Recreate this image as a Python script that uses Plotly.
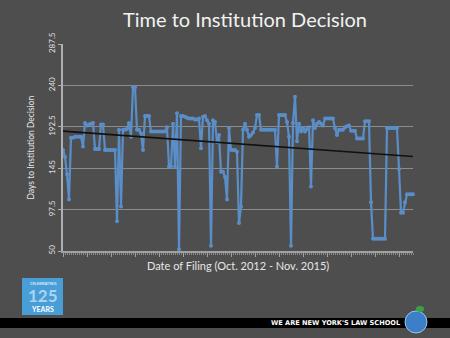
import plotly.graph_objects as go

# ---- data ----
days = [166, 158, 138, 109, 180, 180, 181, 181, 181, 181,
        170, 197, 194, 195, 196, 197, 167, 167, 167, 195,
        195, 166, 166, 166, 166, 166, 166, 84, 189, 101,
        189, 189, 190, 197, 181, 238, 238, 189, 189, 185,
        166, 205, 205, 205, 187, 187, 187, 187, 187, 187,
        187, 187, 192, 147, 147, 196, 147, 208, 52, 205,
        205, 204, 203, 202, 202, 202, 201, 201, 202, 168,
        204, 205, 200, 196, 56, 200, 198, 175, 183, 141,
        141, 135, 109, 191, 166, 166, 166, 164, 82, 101,
        189, 196, 189, 181, 183, 186, 191, 206, 206, 189,
        189, 189, 189, 189, 189, 189, 189, 147, 206, 206,
        206, 206, 198, 181, 56, 197, 227, 176, 196, 187,
        191, 187, 190, 192, 124, 200, 191, 196, 198, 196,
        194, 202, 202, 202, 202, 202, 191, 183, 189, 189,
        189, 192, 193, 194, 188, 188, 188, 179, 179, 179,
        179, 199, 199, 199, 106, 64, 64, 64, 64, 64,
        64, 64, 191, 191, 191, 191, 191, 191, 144, 94,
        94, 106, 115, 115, 115, 115]
filing_index = list(range(len(days)))
trend_values = [187.5, 158.5]          # linear trend, first & last filing
trend_index = [filing_index[0], filing_index[-1]]
y_ticks = [50, 97.5, 145, 192.5, 240, 287.5]
y_tick_labels = ["50", "97.5", "145", "192.5", "240", "287.5"]

BG = "#4e4e4e"
FONT = "Lato"

fig = go.Figure()
fig.add_trace(go.Scatter(
    x=filing_index, y=days, mode="lines+markers",
    line=dict(color="#5a8ec8", width=2.2),
    marker=dict(color="#5a8ec8", size=4),
    cliponaxis=False, showlegend=False))
fig.add_trace(go.Scatter(
    x=trend_index, y=trend_values, mode="lines",
    line=dict(color="#111111", width=1.6), showlegend=False))

W, H = 450, 338
L, R, T, B = 63, 37, 44, 87
def px(xpix):
    return (xpix - L) / (W - L - R)
def py(ypix):
    return (H - B - ypix) / (H - T - B)

shapes = [
    # black band at bottom
    dict(type="rect", xref="paper", yref="paper", x0=px(-5), x1=px(455),
         y0=py(328), y1=py(318), fillcolor="#000000", line_width=0, layer="above"),
    # 125 years logo
    dict(type="rect", xref="paper", yref="paper", x0=px(22), x1=px(63),
         y0=py(315), y1=py(278), fillcolor="#4a9ed8", line_width=0),
    # globe apple
    dict(type="circle", xref="paper", yref="paper", x0=px(405), x1=px(427),
         y0=py(333), y1=py(311), fillcolor="#3a7fc8", line=dict(color="#9cc8ee", width=1)),
    dict(type="circle", xref="paper", yref="paper", x0=px(416), x1=px(424),
         y0=py(312), y1=py(306), fillcolor="#3aa047", line_width=0),
]

annotations = [
    dict(text="Days to Institution Decision", xref="paper", yref="paper",
         x=px(30), y=py(147.5), textangle=-90, showarrow=False,
         font=dict(family=FONT, size=8.5, color="#e6e6e6"),
         xanchor="center", yanchor="middle"),
    dict(text="Date of Filing (Oct. 2012 - Nov. 2015)", xref="paper", yref="paper",
         x=px(238), y=py(265), showarrow=False,
         font=dict(family=FONT, size=11, color="#e6e6e6"),
         xanchor="center", yanchor="middle"),
    dict(text="CELEBRATING", xref="paper", yref="paper", x=px(42.5), y=py(283),
         showarrow=False, font=dict(family=FONT, size=4, color="#ffffff"),
         xanchor="center", yanchor="middle"),
    dict(text="<b>125</b>", xref="paper", yref="paper", x=px(42.5), y=py(295),
         showarrow=False, font=dict(family=FONT, size=17, color="#a8d4f4"),
         xanchor="center", yanchor="middle"),
    dict(text="<b>YEARS</b>", xref="paper", yref="paper", x=px(42.5), y=py(309),
         showarrow=False, font=dict(family=FONT, size=7, color="#ffffff"),
         xanchor="center", yanchor="middle"),
    dict(text="<b>WE ARE NEW YORK'S LAW SCHOOL</b>", xref="paper", yref="paper",
         x=px(403), y=py(323), showarrow=False,
         font=dict(family="DejaVu Sans", size=6.6, color="#ffffff"),
         xanchor="right", yanchor="middle"),
]

fig.update_layout(
    width=W, height=H,
    margin=dict(l=L, r=R, t=T, b=B),
    paper_bgcolor=BG, plot_bgcolor=BG,
    title=dict(text="Time to Institution Decision", x=245 / W, y=1 - 20 / H,
               xanchor="center", yanchor="middle",
               font=dict(family=FONT, size=20, color="#f2f2f2")),
    shapes=shapes, annotations=annotations,
    xaxis=dict(range=[filing_index[0], filing_index[-1]], showgrid=False,
               zeroline=False, showticklabels=False,
               showline=True, linecolor="#a0a0a0", linewidth=1.5,
               ticks="outside", tickmode="linear", tick0=0, dtick=12,
               ticklen=4, tickcolor="#a0a0a0", tickwidth=1,
               minor=dict(ticks="outside", dtick=1, ticklen=2,
                          tickcolor="#888888", tickwidth=1, showgrid=False)),
    yaxis=dict(range=[50, 287.5], tickmode="array", tickvals=y_ticks,
               ticktext=y_tick_labels, tickangle=-90,
               showgrid=True, gridcolor="#8c8c8c", gridwidth=1,
               zeroline=False, showline=True, linecolor="#b0b0b0", linewidth=1.5,
               ticks="outside", ticklen=3, tickcolor="#b0b0b0",
               tickfont=dict(family=FONT, size=8, color="#e0e0e0")),
)

fig.write_html("out.html")
